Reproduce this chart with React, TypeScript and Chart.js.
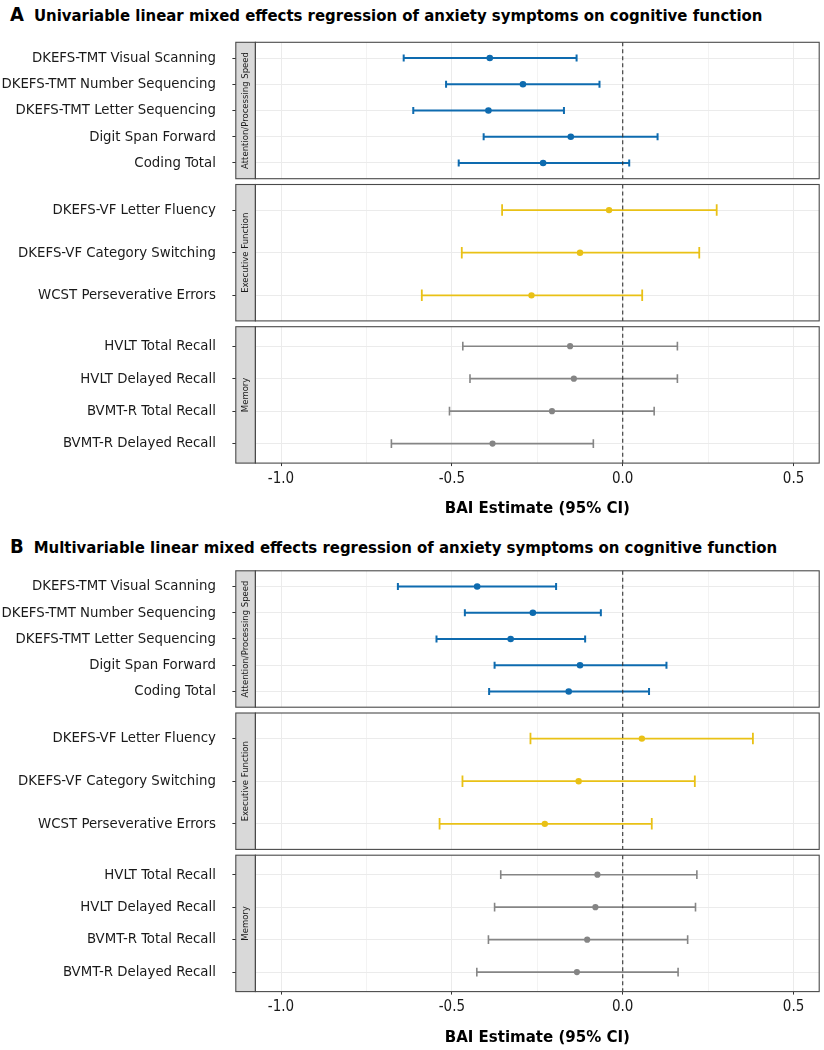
import React, { useEffect, useRef } from 'react';
import { Chart, registerables } from 'chart.js';

Chart.register(...registerables);

// ---------- data ----------
const FACETS = ['Attention/Processing Speed', 'Executive Function', 'Memory'];

const ATTN_LABELS = [
  'DKEFS-TMT Visual Scanning',
  'DKEFS-TMT Number Sequencing',
  'DKEFS-TMT Letter Sequencing',
  'Digit Span Forward',
  'Coding Total',
];
const EXEC_LABELS = ['DKEFS-VF Letter Fluency', 'DKEFS-VF Category Switching', 'WCST Perseverative Errors'];
const MEM_LABELS = ['HVLT Total Recall', 'HVLT Delayed Recall', 'BVMT-R Total Recall', 'BVMT-R Delayed Recall'];

// Panel A: univariable
const A_ATTN_EST = [-0.389, -0.292, -0.393, -0.152, -0.233];
const A_ATTN_LO = [-0.641, -0.517, -0.613, -0.407, -0.48];
const A_ATTN_HI = [-0.135, -0.068, -0.172, 0.102, 0.019];
const A_EXEC_EST = [-0.04, -0.125, -0.267];
const A_EXEC_LO = [-0.353, -0.471, -0.588];
const A_EXEC_HI = [0.275, 0.224, 0.057];
const A_MEM_EST = [-0.154, -0.143, -0.207, -0.381];
const A_MEM_LO = [-0.468, -0.447, -0.507, -0.677];
const A_MEM_HI = [0.16, 0.16, 0.092, -0.086];

// Panel B: multivariable
const B_ATTN_EST = [-0.426, -0.263, -0.328, -0.125, -0.158];
const B_ATTN_LO = [-0.658, -0.462, -0.545, -0.375, -0.391];
const B_ATTN_HI = [-0.195, -0.064, -0.11, 0.128, 0.077];
const B_EXEC_EST = [0.056, -0.129, -0.228];
const B_EXEC_LO = [-0.27, -0.469, -0.536];
const B_EXEC_HI = [0.381, 0.211, 0.085];
const B_MEM_EST = [-0.074, -0.08, -0.104, -0.134];
const B_MEM_LO = [-0.357, -0.375, -0.393, -0.427];
const B_MEM_HI = [0.217, 0.213, 0.19, 0.162];

const X_MAJOR = [-1, -0.5, 0, 0.5];
const X_MAJOR_LABELS = ['-1.0', '-0.5', '0.0', '0.5'];
const X_MINOR = [-0.75, -0.25, 0.25];
const X_MIN = -1.075;
const X_MAX = 0.575;

const TITLE_A = 'Univariable linear mixed effects regression of anxiety symptoms on cognitive function';
const TITLE_B = 'Multivariable linear mixed effects regression of anxiety symptoms on cognitive function';
const X_TITLE = 'BAI Estimate (95% CI)';

// ---------- styling ----------
const BLUE = '#0E6BAF';
const GOLD = '#E9C116';
const GREY = '#858585';
const FONT = "'DejaVu Sans Condensed', 'DejaVu Sans', sans-serif";

const W = 824;
const PANEL_LEFT = 255.4;
const PANEL_RIGHT = 819.2;
const STRIP_W = 19.6;
const PANEL_H = 136.4;
const PANEL_GAP = 5.8;
const AXIS_H = 56;

const decor = {
  id: 'decor',
  afterDatasetsDraw(chart: any) {
    const { ctx, chartArea: a, scales } = chart;
    const px = scales.x.getPixelForValue(0);
    ctx.save();
    ctx.strokeStyle = '#333333';
    ctx.lineWidth = 1.1;
    ctx.setLineDash([4, 3]);
    ctx.beginPath();
    ctx.moveTo(px, a.top);
    ctx.lineTo(px, a.bottom);
    ctx.stroke();
    ctx.restore();
  },
  afterDraw(chart: any, _args: any, opts: any) {
    const { ctx, chartArea: a } = chart;
    const h = a.bottom - a.top;
    ctx.save();
    ctx.fillStyle = '#D9D9D9';
    ctx.fillRect(a.left - STRIP_W, a.top, STRIP_W, h);
    ctx.strokeStyle = '#4a4a4a';
    ctx.lineWidth = 1.1;
    ctx.strokeRect(a.left - STRIP_W, a.top, STRIP_W, h);
    ctx.strokeRect(a.left, a.top, a.right - a.left, h);
    ctx.translate(a.left - STRIP_W / 2, (a.top + a.bottom) / 2);
    ctx.rotate(-Math.PI / 2);
    ctx.fillStyle = '#1a1a1a';
    ctx.font = "8.5px 'DejaVu Sans', sans-serif";
    ctx.textAlign = 'center';
    ctx.textBaseline = 'middle';
    ctx.fillText(opts.strip || '', 0, 0.5);
    ctx.restore();
  },
};

type FacetProps = {
  labels: string[];
  est: number[];
  lo: number[];
  hi: number[];
  color: string;
  lineWidth: number;
  pointR: number;
  strip: string;
  top: number;
  axis: boolean;
};

function Facet({ labels, est, lo, hi, color, lineWidth, pointR, strip, top, axis }: FacetProps) {
  const ref = useRef<HTMLCanvasElement>(null);
  const bottom = top + PANEL_H;
  const canvasTop = Math.floor(top) - 2;
  const canvasBottom = Math.ceil(bottom + (axis ? AXIS_H : 2));
  const canvasH = canvasBottom - canvasTop;
  const padTop = top - canvasTop;
  const padBottom = canvasBottom - bottom - (axis ? AXIS_H : 0);

  useEffect(() => {
    const n = labels.length;
    const spacing = PANEL_H / (n + 0.2);
    const capR = spacing * 0.135;
    const datasets: any[] = labels.map((_, i) => ({
      data: [
        { x: lo[i], y: i },
        { x: hi[i], y: i },
      ],
      showLine: true,
      borderColor: color,
      borderWidth: lineWidth,
      pointStyle: 'line',
      pointRotation: 90,
      pointRadius: capR,
      pointBorderColor: color,
      pointBackgroundColor: color,
      pointBorderWidth: lineWidth,
    }));
    datasets.push({
      data: est.map((x, i) => ({ x, y: i })),
      showLine: false,
      pointStyle: 'circle',
      pointRadius: pointR,
      pointBackgroundColor: color,
      pointBorderColor: color,
      pointBorderWidth: 0,
    });
    const allX = [...X_MINOR, ...X_MAJOR].sort((p, q) => p - q);
    const chart = new Chart(ref.current as HTMLCanvasElement, {
      type: 'scatter',
      data: { datasets },
      options: {
        responsive: false,
        animation: false,
        events: [],
        layout: {
          autoPadding: false,
          padding: { top: padTop, bottom: padBottom, left: 0, right: W - PANEL_RIGHT },
        },
        plugins: {
          legend: { display: false },
          tooltip: { enabled: false },
          decor: { strip },
        } as any,
        scales: {
          x: {
            type: 'linear',
            min: X_MIN,
            max: X_MAX,
            afterBuildTicks: (s: any) => {
              s.ticks = allX.map((v) => ({ value: v }));
            },
            afterFit: (s: any) => {
              s.height = axis ? AXIS_H : 0;
              s.paddingLeft = 0;
              s.paddingRight = 0;
            },
            border: { display: false },
            grid: {
              color: (c: any) => (X_MAJOR.includes(c.tick?.value) ? '#EBEBEB' : '#F3F3F3'),
              lineWidth: 1,
              drawTicks: axis,
              tickLength: 3,
              tickColor: (c: any) => (X_MAJOR.includes(c.tick?.value) ? '#333333' : 'rgba(0,0,0,0)'),
            },
            ticks: {
              display: axis,
              autoSkip: false,
              maxRotation: 0,
              padding: 4,
              color: '#1a1a1a',
              font: { family: FONT, size: 15 },
              callback: (v: any) => {
                const k = X_MAJOR.indexOf(Number(v));
                return k >= 0 ? X_MAJOR_LABELS[k] : '';
              },
            },
            title: {
              display: axis,
              text: X_TITLE,
              color: '#000',
              padding: { top: 0, bottom: 0 },
              font: { family: FONT, size: 16.7, weight: 'bold' },
            },
          },
          y: {
            type: 'linear',
            reverse: true,
            min: -0.6,
            max: n - 0.4,
            afterBuildTicks: (s: any) => {
              s.ticks = labels.map((_, i) => ({ value: i }));
            },
            afterFit: (s: any) => {
              s.width = PANEL_LEFT;
              s.paddingTop = 0;
              s.paddingBottom = 0;
            },
            border: { display: false },
            grid: {
              color: '#EBEBEB',
              lineWidth: 1,
              drawTicks: true,
              tickLength: 23,
              tickColor: '#333333',
            },
            ticks: {
              autoSkip: false,
              padding: 16.5,
              color: '#1a1a1a',
              font: { family: FONT, size: 14.8 },
              callback: (_v: any, i: number) => labels[i],
            },
          },
        },
      } as any,
      plugins: [decor],
    });
    return () => chart.destroy();
  }, []);

  return (
    <div style={{ position: 'absolute', left: 0, top: canvasTop, width: W, height: canvasH }}>
      <canvas ref={ref} width={W} height={canvasH} style={{ display: 'block', width: W, height: canvasH }} />
    </div>
  );
}

function Title({ letter, text, top }: { letter: string; text: string; top: number }) {
  return (
    <div
      style={{
        position: 'absolute',
        left: 10,
        top,
        whiteSpace: 'nowrap',
        fontFamily: FONT,
        fontWeight: 'bold',
        lineHeight: '22px',
        color: '#000',
      }}
    >
      <span style={{ fontSize: 20, marginRight: 10 }}>{letter}</span>
      <span style={{ fontSize: 16.6 }}>{text}</span>
    </div>
  );
}

export default function App() {
  const aTop = 42.3;
  const bTop = aTop + 528.5;
  const tops = (t: number) => [t, t + PANEL_H + PANEL_GAP, t + 2 * (PANEL_H + PANEL_GAP)];
  const [a1, a2, a3] = tops(aTop);
  const [b1, b2, b3] = tops(bTop);
  return (
    <div style={{ position: 'absolute', left: 0, top: 0, width: W, height: 1050, background: '#fff' }}>
      <Title letter="A" text={TITLE_A} top={3} />
      <Facet labels={ATTN_LABELS} est={A_ATTN_EST} lo={A_ATTN_LO} hi={A_ATTN_HI} color={BLUE} lineWidth={2} pointR={3.3} strip={FACETS[0]} top={a1} axis={false} />
      <Facet labels={EXEC_LABELS} est={A_EXEC_EST} lo={A_EXEC_LO} hi={A_EXEC_HI} color={GOLD} lineWidth={1.8} pointR={3.2} strip={FACETS[1]} top={a2} axis={false} />
      <Facet labels={MEM_LABELS} est={A_MEM_EST} lo={A_MEM_LO} hi={A_MEM_HI} color={GREY} lineWidth={1.6} pointR={3.1} strip={FACETS[2]} top={a3} axis={true} />
      <Title letter="B" text={TITLE_B} top={535} />
      <Facet labels={ATTN_LABELS} est={B_ATTN_EST} lo={B_ATTN_LO} hi={B_ATTN_HI} color={BLUE} lineWidth={2} pointR={3.3} strip={FACETS[0]} top={b1} axis={false} />
      <Facet labels={EXEC_LABELS} est={B_EXEC_EST} lo={B_EXEC_LO} hi={B_EXEC_HI} color={GOLD} lineWidth={1.8} pointR={3.2} strip={FACETS[1]} top={b2} axis={false} />
      <Facet labels={MEM_LABELS} est={B_MEM_EST} lo={B_MEM_LO} hi={B_MEM_HI} color={GREY} lineWidth={1.6} pointR={3.1} strip={FACETS[2]} top={b3} axis={true} />
    </div>
  );
}
